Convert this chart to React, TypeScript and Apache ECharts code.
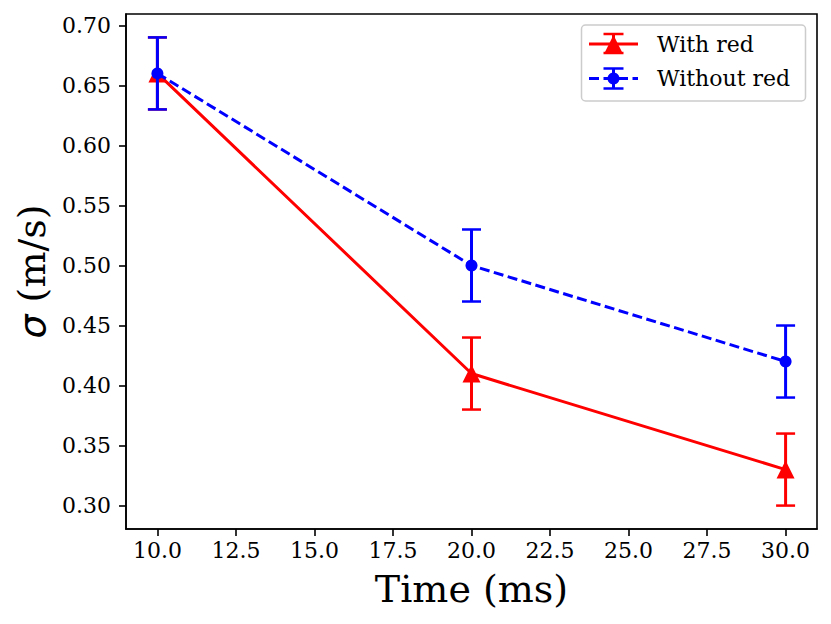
import React, { useEffect, useRef } from "react";
import * as echarts from "echarts";

const times = [10, 20, 30];
const withRed = [0.66, 0.41, 0.33];
const withRedErr = [0.03, 0.03, 0.03];
const withoutRed = [0.66, 0.5, 0.42];
const withoutRedErr = [0.03, 0.03, 0.03];
const xTicks = [10, 12.5, 15, 17.5, 20, 22.5, 25, 27.5, 30];
const yTicks = [0.3, 0.35, 0.4, 0.45, 0.5, 0.55, 0.6, 0.65, 0.7];
const seriesNames = ["With red", "Without red"];
const xTitle = "Time (ms)";
const yTitleSymbol = "σ";
const yTitleRest = " (m/s)";

const RED = "#ff0000";
const BLUE = "#0000ff";
const SERIF = "DejaVu Serif";

function errorSeries(name: string, means: number[], errs: number[], color: string, z: number) {
  return {
    type: "custom",
    name,
    silent: true,
    z,
    data: times.map((t, i) => [t, means[i] - errs[i], means[i] + errs[i]]),
    encode: { x: 0, y: [1, 2] },
    renderItem: (_params: any, api: any) => {
      const x = api.value(0);
      const lo = api.coord([x, api.value(1)]);
      const hi = api.coord([x, api.value(2)]);
      const c = 9.5;
      const st = { stroke: color, lineWidth: 3, fill: "none" };
      return {
        type: "group",
        children: [
          { type: "line", shape: { x1: lo[0], y1: lo[1], x2: hi[0], y2: hi[1] }, style: st },
          { type: "line", shape: { x1: lo[0] - c, y1: lo[1], x2: lo[0] + c, y2: lo[1] }, style: { ...st, lineWidth: 2.5 } },
          { type: "line", shape: { x1: hi[0] - c, y1: hi[1], x2: hi[0] + c, y2: hi[1] }, style: { ...st, lineWidth: 2.5 } },
        ],
      };
    },
  };
}

function legendGraphics() {
  const cx = 613.5;
  const y1 = 44;
  const y2 = 78.5;
  const c = 10;
  const els: any[] = [
    {
      type: "rect",
      shape: { x: 581.5, y: 25, width: 224, height: 76, r: 4 },
      style: { fill: "rgba(255,255,255,0.8)", stroke: "#cccccc", lineWidth: 1.5 },
      z: 100,
    },
    { type: "line", shape: { x1: 589, y1: y1, x2: 638, y2: y1 }, style: { stroke: RED, lineWidth: 3 }, z: 101 },
    { type: "line", shape: { x1: cx, y1: y1 - 10, x2: cx, y2: y1 + 9 }, style: { stroke: RED, lineWidth: 3 }, z: 101 },
    { type: "line", shape: { x1: cx - c, y1: y1 - 10, x2: cx + c, y2: y1 - 10 }, style: { stroke: RED, lineWidth: 2.5 }, z: 101 },
    { type: "line", shape: { x1: cx - c, y1: y1 + 9, x2: cx + c, y2: y1 + 9 }, style: { stroke: RED, lineWidth: 2.5 }, z: 101 },
    {
      type: "polygon",
      shape: { points: [[cx, y1 - 9], [cx + 9, y1 + 9], [cx - 9, y1 + 9]] },
      style: { fill: RED },
      z: 102,
    },
    {
      type: "line",
      shape: { x1: 589, y1: y2, x2: 638, y2: y2 },
      style: { stroke: BLUE, lineWidth: 3, lineDash: [10, 4.5] },
      z: 101,
    },
    { type: "line", shape: { x1: cx, y1: y2 - 10, x2: cx, y2: y2 + 10 }, style: { stroke: BLUE, lineWidth: 3 }, z: 101 },
    { type: "line", shape: { x1: cx - c, y1: y2 - 10, x2: cx + c, y2: y2 - 10 }, style: { stroke: BLUE, lineWidth: 2.5 }, z: 101 },
    { type: "line", shape: { x1: cx - c, y1: y2 + 10, x2: cx + c, y2: y2 + 10 }, style: { stroke: BLUE, lineWidth: 2.5 }, z: 101 },
    { type: "circle", shape: { cx, cy: y2, r: 6 }, style: { fill: BLUE }, z: 102 },
    {
      type: "text",
      x: 657,
      y: y1,
      style: { text: seriesNames[0], font: `22px "${SERIF}"`, fill: "#000", textVerticalAlign: "middle", verticalAlign: "middle" },
      z: 102,
    },
    {
      type: "text",
      x: 657,
      y: y2,
      style: { text: seriesNames[1], font: `22px "${SERIF}"`, fill: "#000", textVerticalAlign: "middle", verticalAlign: "middle" },
      z: 102,
    },
  ];
  return els;
}

export default function App() {
  const ref = useRef<HTMLDivElement>(null);
  useEffect(() => {
    document.body.style.margin = "0";
    if (!ref.current) return;
    const chart = echarts.init(ref.current, null, { renderer: "svg" });
    const axisCommon = {
      type: "value",
      axisLine: { show: true, lineStyle: { color: "#000", width: 1.6 } },
      axisTick: { show: true, inside: false, length: 7, lineStyle: { color: "#000", width: 1.6 } },
      splitLine: { show: false },
    };
    chart.setOption({
      animation: false,
      backgroundColor: "#ffffff",
      grid: {
        left: 126,
        right: 14,
        top: 14,
        bottom: 95,
        show: true,
        borderColor: "#000",
        borderWidth: 1.6,
        backgroundColor: "transparent",
      },
      xAxis: {
        ...axisCommon,
        min: 9,
        max: 31,
        axisTick: { ...axisCommon.axisTick, customValues: xTicks },
        axisLabel: {
          customValues: xTicks,
          formatter: (v: number) => v.toFixed(1),
          fontFamily: SERIF,
          fontSize: 22,
          color: "#000",
          margin: 10,
        },
        name: xTitle,
        nameLocation: "middle",
        nameGap: 41,
        nameTextStyle: { fontFamily: SERIF, fontSize: 38, color: "#000" },
      },
      yAxis: {
        ...axisCommon,
        min: 0.2805,
        max: 0.7095,
        axisTick: { ...axisCommon.axisTick, customValues: yTicks },
        axisLabel: {
          customValues: yTicks,
          formatter: (v: number) => v.toFixed(2),
          fontFamily: SERIF,
          fontSize: 22,
          color: "#000",
          margin: 15,
        },
        name: `{s|${yTitleSymbol}}${yTitleRest}`,
        nameLocation: "middle",
        nameGap: 74,
        nameTextStyle: {
          fontFamily: SERIF,
          fontSize: 38,
          color: "#000",
          rich: {
            s: { fontFamily: "DejaVu Sans", fontStyle: "italic", fontSize: 38, color: "#000" },
          },
        },
      },
      series: [
        {
          type: "line",
          name: seriesNames[0],
          data: times.map((t, i) => [t, withRed[i]]),
          symbol: "triangle",
          symbolSize: 18,
          showSymbol: true,
          silent: true,
          z: 2,
          lineStyle: { color: RED, width: 3 },
          itemStyle: { color: RED },
        },
        errorSeries(seriesNames[0] + " err", withRed, withRedErr, RED, 3),
        {
          type: "line",
          name: seriesNames[1],
          data: times.map((t, i) => [t, withoutRed[i]]),
          symbol: "circle",
          symbolSize: 12,
          showSymbol: true,
          silent: true,
          z: 4,
          lineStyle: { color: BLUE, width: 3, type: [10, 4.5] },
          itemStyle: { color: BLUE },
        },
        errorSeries(seriesNames[1] + " err", withoutRed, withoutRedErr, BLUE, 5),
      ],
      graphic: legendGraphics(),
    });
    return () => chart.dispose();
  }, []);
  return <div ref={ref} style={{ width: 831, height: 624 }} />;
}
